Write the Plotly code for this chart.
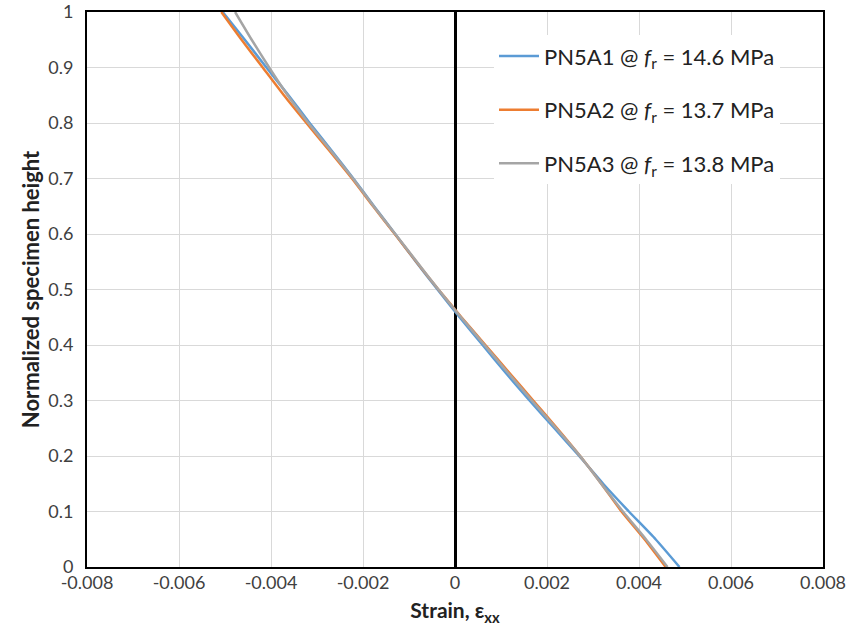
import plotly.graph_objects as go

# Normalized height positions along the specimen
height = [0.0, 0.05, 0.1, 0.15, 0.2, 0.25, 0.3, 0.35, 0.4, 0.45, 0.5,
          0.55, 0.6, 0.65, 0.7, 0.75, 0.8, 0.85, 0.9, 0.95, 1.0]

# Horizontal strain profiles at rupture
strain_pn5a1 = [0.00488, 0.00436, 0.00378, 0.00322, 0.00270, 0.00216, 0.00162,
                0.00110, 0.00060, 0.00010, -0.00038, -0.00085, -0.00130, -0.00176,
                -0.00221, -0.00268, -0.00316, -0.00362, -0.00410, -0.00457, -0.00505]
strain_pn5a2 = [0.00458, 0.00412, 0.00362, 0.00318, 0.00272, 0.00222, 0.00170,
                0.00118, 0.00066, 0.00014, -0.00036, -0.00084, -0.00131, -0.00178,
                -0.00224, -0.00273, -0.00323, -0.00372, -0.00418, -0.00464, -0.00508]
strain_pn5a3 = [0.00462, 0.00415, 0.00365, 0.00318, 0.00272, 0.00220, 0.00167,
                0.00115, 0.00064, 0.00013, -0.00036, -0.00083, -0.00130, -0.00177,
                -0.00222, -0.00270, -0.00319, -0.00364, -0.00404, -0.00442, -0.00478]

names = ["PN5A1 @ <i>f</i><sub>r</sub> = 14.6 MPa",
         "PN5A2 @ <i>f</i><sub>r</sub> = 13.7 MPa",
         "PN5A3 @ <i>f</i><sub>r</sub> = 13.8 MPa"]
colors = ["#5B9BD5", "#ED7D31", "#A5A5A5"]
series = [strain_pn5a1, strain_pn5a2, strain_pn5a3]

x_ticks = [-0.008, -0.006, -0.004, -0.002, 0, 0.002, 0.004, 0.006, 0.008]
x_tick_text = ["-0.008", "-0.006", "-0.004", "-0.002", "0", "0.002", "0.004", "0.006", "0.008"]
y_ticks = [0, 0.1, 0.2, 0.3, 0.4, 0.5, 0.6, 0.7, 0.8, 0.9, 1]
y_tick_text = ["0", "0.1", "0.2", "0.3", "0.4", "0.5", "0.6", "0.7", "0.8", "0.9", "1"]

FONT = "Lato, 'Open Sans', sans-serif"

fig = go.Figure()
for name, col, xs in zip(names, colors, series):
    fig.add_trace(go.Scatter(
        x=xs, y=height, mode="lines", name=name, legendgroup=name,
        line=dict(color=col, width=2.5, shape="spline", smoothing=0.6),
    ))

fig.update_layout(
    width=849, height=637,
    margin=dict(l=87, r=26, t=12, b=70),
    paper_bgcolor="white", plot_bgcolor="white",
    font=dict(family=FONT, size=18, color="#404040"),
    showlegend=True,
    legend=dict(
        x=0.553, y=0.958, xanchor="left", yanchor="top",
        bgcolor="white", borderwidth=0,
        font=dict(family=FONT, size=22, color="#222222"),
        tracegroupgap=22, itemwidth=40,
    ),
    xaxis=dict(
        range=[-0.008, 0.008], tickvals=x_ticks, ticktext=x_tick_text,
        showgrid=True, gridcolor="#d9d9d9", gridwidth=1,
        zeroline=True, zerolinecolor="black", zerolinewidth=3,
        showline=True, linecolor="black", linewidth=2, mirror=True,
        ticks="", tickfont=dict(size=18, color="#404040"),
        ticklabelstandoff=-2, automargin=False,
        title=dict(text="<b>Strain, ε<sub>xx</sub></b>", font=dict(size=21, color="#222222"), standoff=12),
    ),
    yaxis=dict(
        range=[0, 1], tickvals=y_ticks, ticktext=y_tick_text,
        showgrid=True, gridcolor="#d9d9d9", gridwidth=1,
        zeroline=False,
        showline=True, linecolor="black", linewidth=2, mirror=True,
        ticks="", tickfont=dict(size=18, color="#404040"),
        ticklabelstandoff=8, automargin=False,
        title=dict(text="<b>Normalized specimen height</b>", font=dict(size=22, color="#222222"), standoff=3),
    ),
)

fig.write_html("out.html")
